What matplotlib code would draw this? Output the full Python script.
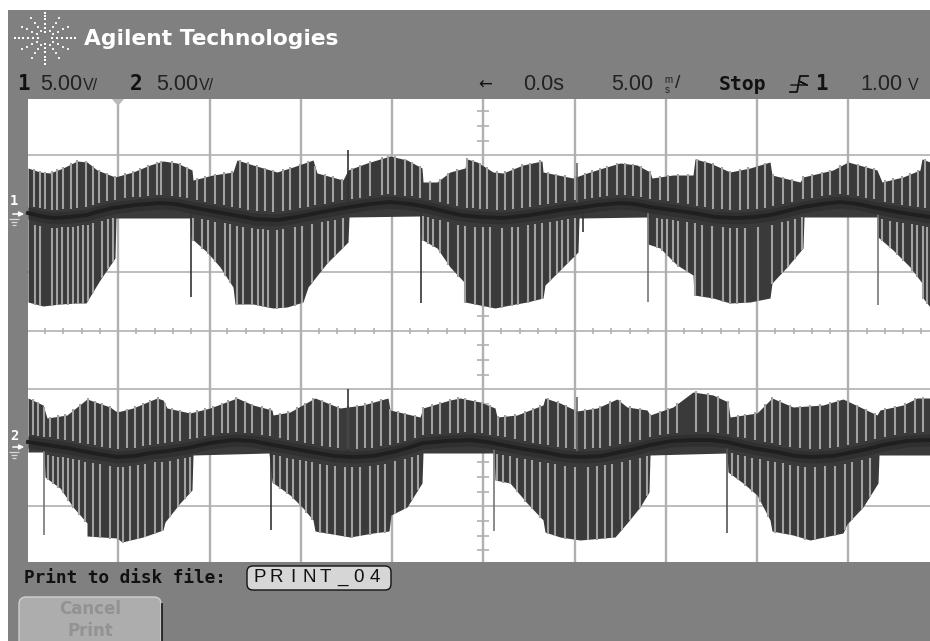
import numpy as np
import matplotlib
matplotlib.use("Agg")
import matplotlib.pyplot as plt
from matplotlib.patches import Rectangle, FancyBboxPatch, Polygon

# All readings are in scope screen columns / rows
ch1_upper = [(28,168),(40,172),(50,173),(63,168),(77,161),(87,162),(97,170),(115,177),(133,172),(150,165),(163,161),(177,163),(192,170),(193,180),(213,175),(233,172),(237,160),(253,165),(277,172),(293,167),(313,160),(317,173),(343,180),(348,170),(367,163),(390,156),(407,160),(422,168),(423,182),(437,182),(450,172),(465,168),(467,159),(477,162),(493,172),(503,173),(523,165),(542,161),(543,172),(573,178),(587,173),(603,168),(620,163),(637,165),(650,172),(652,178),(673,175),(693,175),(695,159),(710,163),(730,172),(750,168),(770,162),(772,175),(800,182),(803,177),(833,170),(848,162),(877,170),(882,182),(903,177),(920,170),(922,159),(930,162)]
ch1_lower = [(28,302),(43,306),(60,304),(77,303),(86,303),(100,280),(115,258),(116,218),(190,218),(191,238),(207,252),(220,267),(233,287),(235,304),(253,304),(273,308),(287,307),(303,302),(308,287),(327,263),(348,242),(349,217),(420,216),(421,239),(437,248),(450,267),(465,283),(465,302),(480,305),(495,308),(510,305),(527,302),(543,298),(545,285),(560,270),(578,252),(579,218),(648,217),(648,244),(660,248),(677,265),(693,275),(694,295),(713,298),(730,303),(750,302),(770,298),(772,283),(787,267),(803,248),(804,217),(878,217),(878,237),(893,250),(910,267),(922,283),(923,298),(930,307)]
ch1_centre = [(28,213),(40,216),(53,218),(70,217),(87,215),(100,211),(113,208),(135,205),(160,203),(175,204),(190,207),(212,211),(233,215),(255,219),(277,220),(297,217),(317,213),(333,210),(350,207),(370,204),(390,202),(410,204),(427,207),(443,211),(460,215),(480,217),(503,218),(523,216),(543,213),(560,210),(577,208),(598,205),(620,203),(635,204),(650,207),(672,210),(693,213),(715,217),(737,218),(755,217),(770,215),(787,211),(803,207),(822,204),(840,202),(858,204),(877,208),(903,213),(930,217)]
ch2_upper = [(28,398),(43,405),(47,418),(67,415),(87,399),(110,407),(117,412),(133,408),(157,398),(163,400),(167,408),(190,413),(210,408),(237,398),(253,405),(272,410),(273,415),(290,412),(315,398),(340,408),(363,405),(388,398),(390,410),(420,417),(423,408),(450,400),(460,398),(480,402),(495,408),(497,417),(517,415),(543,405),(545,398),(560,403),(577,411),(597,408),(617,399),(627,407),(647,410),(650,415),(673,407),(693,392),(713,395),(728,402),(730,417),(757,413),(772,398),(793,407),(823,405),(843,399),(877,415),(880,410),(903,405),(917,398),(930,398)]
ch2_lower = [(28,452),(44,452),(45,477),(60,488),(73,507),(87,523),(87,536),(117,538),(122,542),(143,537),(163,530),(165,522),(180,503),(192,490),(193,455),(269,453),(272,482),(290,495),(303,508),(313,520),(315,531),(350,537),(373,533),(389,531),(391,515),(407,507),(422,483),(423,453),(494,453),(495,480),(510,483),(527,503),(543,520),(545,532),(560,537),(580,540),(615,537),(627,523),(640,507),(649,492),(650,455),(727,453),(728,472),(743,483),(757,495),(770,520),(772,531),(793,535),(810,540),(843,533),(847,524),(863,507),(878,483),(879,455),(930,455)]
ch2_centre = [(28,442),(47,445),(67,448),(92,453),(117,457),(135,456),(150,453),(168,451),(187,448),(210,443),(233,440),(253,441),(273,445),(295,449),(317,453),(335,456),(353,457),(373,456),(393,452),(408,448),(423,443),(447,441),(470,440),(487,442),(503,445),(523,449),(543,452),(563,456),(583,457),(602,456),(620,452),(635,449),(650,445),(672,441),(693,440),(710,440),(727,442),(752,448),(777,452),(795,456),(813,457),(833,456),(853,452),(868,449),(883,445),(907,441),(930,440)]

ch1_up_stripes = [34,40,45,52,57,63,71,77,86,93,99,107,115,125,133,140,148,157,161,172,180,187,197,205,215,224,232,240,248,257,265,273,283,290,300,308,315,325,333,342,352,360,370,382,388,395,405,412,420,430,440,448,457,467,473,480,487,497,505,513,522,530,540,548,556,565,575,585,592,600,607,617,625,633,641,650,660,668,678,688,697,705,713,722,730,740,748,757,765,773,783,792,803,812,822,830,840,848,858,866,874,885,893,902,910,918,925]
ch1_lo_stripes = [35,40,52,57,62,68,73,78,83,88,93,102,108,113,193,202,208,215,225,230,237,243,252,258,263,268,277,283,295,302,312,322,328,335,343,423,428,433,440,448,458,465,475,483,490,502,512,518,528,535,542,550,557,562,568,575,657,662,667,673,678,687,695,702,712,723,730,737,745,758,772,782,788,795,802,882,890,897,903,912,917,923,927]
ch2_up_stripes = [33,38,44,50,58,65,73,80,88,95,102,110,118,127,135,143,150,158,165,172,180,190,197,205,213,222,228,236,245,252,262,270,280,288,297,305,313,322,330,338,348,357,365,372,381,390,398,405,415,423,432,440,450,458,465,475,482,490,498,505,515,525,533,540,548,558,566,575,585,593,600,610,620,630,640,650,660,668,677,696,708,718,728,738,745,755,765,772,780,790,800,810,820,830,838,848,857,866,875,885,895,905,915,923]
ch2_lo_stripes = [48,53,58,63,68,73,79,85,93,100,110,118,123,130,138,145,155,162,170,178,185,190,274,280,287,293,300,306,312,320,327,335,345,352,360,370,378,385,395,405,412,418,497,503,510,517,525,532,540,548,555,565,575,588,597,605,612,622,630,640,647,732,738,745,752,760,768,775,783,790,798,805,815,825,835,845,852,862,870]

# glitches: column, end row, colour
ch1_spikes = [(191,297,'#333333'),(421,303,'#333333'),(648,302,'#777777'),(878,305,'#777777'),(583,232,'#333333'),(348,150,'#333333'),(577,163,'#666666')]
ch2_spikes = [(44,535,'#777777'),(271,530,'#333333'),(494,531,'#777777'),(727,533,'#555555'),(348,389,'#333333'),(577,397,'#666666')]

grid_cols = [118,210,301,392,483,575,666,757,848]
grid_rows = [155,272,331,389,506]
h_ticks = [45,63,82,100,136,155,173,191,227,246,264,282,319,337,355,374,410,428,447,465,501,520,538,556,593,611,630,648,684,702,721,739,775,794,812,830,867,885,903,921]
v_ticks = [111,126,141,170,184,199,228,243,257,287,301,316,345,360,375,404,418,433,462,477,492,521,536,550]

GREY = '#808080'; DARK = '#3a3a3a'; BAND = '#303030'; CORE = '#1f1f1f'; LIGHT = '#a2a2a2'; GRID = '#b0b0b0'

fig = plt.figure(figsize=(9.3, 6.41), dpi=100, facecolor='white')
ax = fig.add_axes([0, 0, 1, 1])
ax.set_xlim(0, 930); ax.set_ylim(641, 0); ax.axis('off')

ax.add_patch(Rectangle((8, 10), 922, 631, fc=GREY, ec='none', zorder=0))
ax.add_patch(Rectangle((28, 99), 902, 463, fc='white', ec='none', zorder=1))

ax.vlines(grid_cols, 99, 562, color=GRID, lw=1.7, zorder=2)
ax.hlines(grid_rows, 28, 930, color=GRID, lw=1.2, zorder=2)
ax.vlines(h_ticks, 328, 334, color=GRID, lw=1.2, zorder=2)
ax.hlines(v_ticks, 477, 489, color=GRID, lw=1.2, zorder=2)

def trace(up, lo, centre, up_s, lo_s, spikes):
    ux, uy = np.array(up, float).T
    lx, ly = np.array(lo, float).T
    cx, cy = np.array(centre, float).T
    ax.fill_between(ux, uy, np.interp(ux, cx, cy), color=DARK, lw=0, zorder=3)
    ax.fill_between(lx, np.interp(lx, cx, cy), ly, color=DARK, lw=0, zorder=3)
    ax.vlines(up_s, np.interp(up_s, ux, uy) - 1, np.interp(up_s, cx, cy) - 8, color=LIGHT, lw=1.5, zorder=4)
    ax.vlines(lo_s, np.interp(lo_s, cx, cy) + 10, np.interp(lo_s, lx, ly) + 1, color=LIGHT, lw=1.5, zorder=4)
    for col, end, colour in spikes:
        ax.vlines(col, np.interp(col, cx, cy), end, color=colour, lw=1.2, zorder=4)
    ax.fill_between(cx, cy - 6, cy + 6, color=BAND, lw=0, zorder=5)
    ax.plot(cx, cy, color=CORE, lw=2.8, zorder=6, solid_joinstyle='round')

trace(ch1_upper, ch1_lower, ch1_centre, ch1_up_stripes, ch1_lo_stripes, ch1_spikes)
trace(ch2_upper, ch2_lower, ch2_centre, ch2_up_stripes, ch2_lo_stripes, ch2_spikes)

# logo: dotted starburst
for a in [0, 90, 180, 270]:
    t = np.deg2rad(a)
    radii = [7, 12, 17, 22, 26, 30]
    ax.scatter([45 + r * np.cos(t) for r in radii], [38 + 0.85 * r * np.sin(t) for r in radii],
               s=2.0, c='white', marker='s', lw=0, zorder=8)
for a in [30, 60, 120, 150, 210, 240, 300, 330]:
    t = np.deg2rad(a)
    radii = [9, 15, 21, 27]
    ax.scatter([45 + r * np.cos(t) for r in radii], [38 + 0.85 * r * np.sin(t) for r in radii],
               s=1.6, c='#f0f0f0', marker='s', lw=0, zorder=8)

W = dict(zorder=9, va='center')
ax.text(84, 39, 'Agilent Technologies', family='DejaVu Sans', weight='bold', fontsize=15.7, color='white', **W)
MONO = 'DejaVu Sans Mono'; SANS = 'Liberation Sans'; K = '#111111'; T = '#222222'
ax.text(17, 84, '1', family=MONO, weight='bold', fontsize=15, color=K, **W)
ax.text(40, 84, '5.00', family=SANS, fontsize=15.5, color=T, **W)
ax.text(83, 85, 'V/', family=SANS, fontsize=11.5, color=T, **W)
ax.text(130, 84, '2', family=MONO, weight='bold', fontsize=15, color=K, **W)
ax.text(156, 84, '5.00', family=SANS, fontsize=15.5, color=T, **W)
ax.text(199, 85, 'V/', family=SANS, fontsize=11.5, color=T, **W)
ax.text(478, 85, '←', family='DejaVu Sans', fontsize=12, color=K, **W)
ax.text(523, 84, '0.0s', family=SANS, fontsize=15.5, color=T, **W)
ax.text(611, 84, '5.00', family=SANS, fontsize=15.5, color=T, **W)
ax.text(664, 80, 'm', family=SANS, fontsize=7, color=T, **W)
ax.text(665, 90, 's', family=SANS, fontsize=7, color=T, **W)
ax.text(675, 84, '/', family=SANS, fontsize=14, color=T, **W)
ax.text(719, 85, 'Stop', family=MONO, weight='bold', fontsize=14.2, color=K, **W)
ax.plot([790, 797, 800, 808], [92, 92, 76, 76], color=K, lw=1.3, zorder=9)
ax.plot([791, 807, 799, 807], [85, 85, 81, 85], color=K, lw=1.0, zorder=9)
ax.text(815, 84, '1', family=MONO, weight='bold', fontsize=15, color=K, **W)
ax.text(860, 84, '1.00', family=SANS, fontsize=15.5, color=T, **W)
ax.text(908, 85, 'V', family=SANS, fontsize=11.5, color=T, **W)

# trigger marker and channel markers
ax.add_patch(Polygon([(112, 99), (124, 99), (118, 106)], fc='#b8b8b8', ec='none', zorder=8))
for label, lab_row, arrow_row in [('1', 201, 214), ('2', 436, 447)]:
    ax.text(14, lab_row, label, family=MONO, weight='bold', fontsize=10, color='white', ha='center', **W)
    ax.annotate('', xy=(27, arrow_row), xytext=(10, arrow_row), zorder=9,
                arrowprops=dict(arrowstyle='-|>', color='white', lw=1.1, mutation_scale=7))
    ax.hlines([arrow_row + 5, arrow_row + 8, arrow_row + 11], [9, 11, 12], [19, 17, 16], color='#d8d8d8', lw=0.9, zorder=9)

ax.text(24, 578, 'Print to disk file:', family=MONO, weight='bold', fontsize=12.8, color=K, **W)
ax.add_patch(FancyBboxPatch((248, 567), 142, 22, boxstyle='round,pad=1,rounding_size=6', fc='#d6d6d6', ec='#111111', lw=1, zorder=8))
for i, ch in enumerate('PRINT_04'):
    ax.text(260 + 16.4 * i, 578, ch, family=SANS, fontsize=13.5, color=K, ha='center', zorder=9, va='center')
ax.add_patch(FancyBboxPatch((20, 598), 140, 50, boxstyle='round,pad=1,rounding_size=7', fc='#adadad', ec='#d0d0d0', lw=1, zorder=8))
ax.plot([162, 162], [604, 641], color='#222222', lw=1.3, zorder=9)
ax.text(90, 609, 'Cancel', family='DejaVu Sans', weight='bold', fontsize=12, color='#929292', ha='center', **W)
ax.text(90, 631, 'Print', family='DejaVu Sans', weight='bold', fontsize=12, color='#929292', ha='center', **W)

fig.savefig('out.png', dpi=100, facecolor='white')
